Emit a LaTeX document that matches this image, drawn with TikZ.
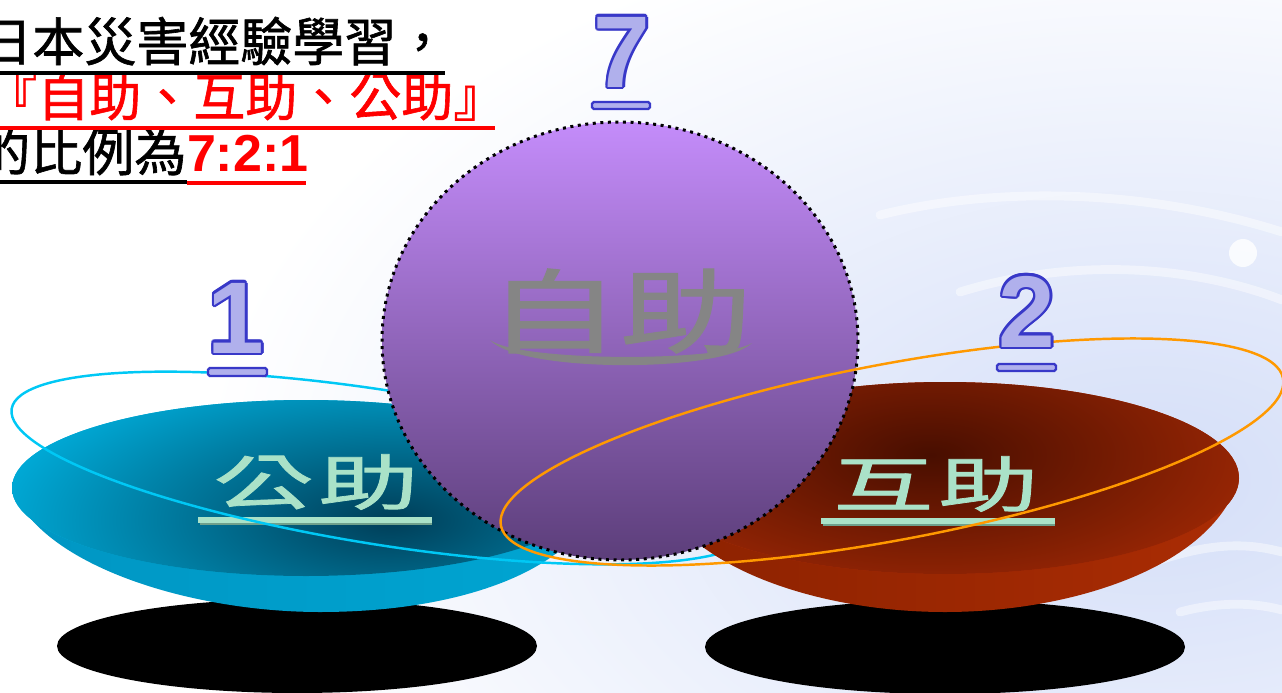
\documentclass[tikz,border=0pt]{standalone}
\usepackage{fontspec}
\usepackage{graphicx}
\newfontfamily\cjk{Noto Sans CJK TC}
\newfontfamily\cjkmid{Noto Sans CJK TC}[FakeBold=1.2]
\newfontfamily\latinb{Liberation Sans}
\usetikzlibrary{positioning}

\definecolor{bgblue}{RGB}{212,222,248}
\definecolor{bluerim}{RGB}{0,176,222}
\definecolor{bluedark}{RGB}{0,62,88}
\definecolor{bowlbl}{RGB}{0,150,195}
\definecolor{bowlbm}{RGB}{0,118,158}
\definecolor{bowlbr}{RGB}{0,165,210}
\definecolor{redrim}{RGB}{180,46,6}
\definecolor{reddark}{RGB}{72,14,0}
\definecolor{bowlrl}{RGB}{140,34,0}
\definecolor{bowlrm}{RGB}{125,30,0}
\definecolor{bowlrr}{RGB}{170,44,4}
\definecolor{ctop}{RGB}{196,140,250}
\definecolor{cmid}{RGB}{160,112,210}
\definecolor{cbot}{RGB}{92,62,122}
\definecolor{graytext}{RGB}{133,133,133}
\definecolor{numfill}{RGB}{176,176,236}
\definecolor{numedge}{RGB}{56,56,200}
\definecolor{mint}{RGB}{170,226,200}
\definecolor{mintshade}{RGB}{110,160,140}
\definecolor{ringblue}{RGB}{0,200,245}
\definecolor{ringorange}{RGB}{255,153,0}

\tikzset{
	titletext/.style={
		anchor=base west,
		inner sep=0pt,
		font=\cjkmid\fontsize{29.6}{32}\selectfont},
	titleuline/.style={
		line width=2pt},
	dishword/.style={
		inner sep=0pt,
		text=mint,
		font=\cjkmid\fontsize{57}{60}\selectfont},
	dishuline/.style={
		line width=3.2pt,
		draw=mint},
	ratioring/.style={
		line width=1.4pt},
	dotborder/.style={
		draw=black,
		line width=1.7pt,
		dash pattern=on 1.7pt off 2.6pt},
	bignum/.style={
		anchor=base,
		inner sep=0pt,
		font=\latinb\bfseries\fontsize{58}{60}\selectfont},
	numbar/.style={
		draw=numedge,
		fill=numfill,
		line width=1.3pt,
		rounded corners=1pt},
	ripple/.style={
		white,
		line width=5pt,
		opacity=0.45,
		line cap=round}
}

% digit with a blue rim: copies round it, then the light fill
\newcommand{\outlinenum}[3]{%
	\foreach \ang in {0,30,...,330}
		\node[bignum, text=numedge, shift={(\ang:2.6)}] (#1-\ang) at (#2) {#3};
	\node[bignum, text=numfill] (#1) at (#2) {#3};
}

\begin{document}
\begin{tikzpicture}[x=0.02cm, y=-0.02cm]
	\useasboundingbox (0,0) rectangle (1282,693);
	\clip (0,0) rectangle (1282,693);

	% water background
	\shade[inner color=bgblue, outer color=white] (1150,480) ellipse [x radius=950, y radius=580];
	\draw[ripple] (880,215) .. controls (1000,185) and (1150,190) .. (1282,232);
	\draw[ripple] (960,292) .. controls (1080,255) and (1200,268) .. (1282,300);
	\draw[ripple] (1160,560) .. controls (1220,540) and (1255,545) .. (1282,552);
	\draw[ripple] (1180,612) .. controls (1225,600) and (1260,604) .. (1282,610);
	\fill[white, opacity=0.8] (1243,253) circle [radius=14];

	% shadows
	\fill[black] (297,646) ellipse [x radius=240, y radius=47];
	\fill[black] (945,647) ellipse [x radius=240, y radius=47];

	% blue dish
	\shade[left color=bowlbl, middle color=bowlbm, right color=bowlbr]
		(12,488) .. controls (40,565) and (190,612) .. (320,612)
		.. controls (470,612) and (585,565) .. (600,490) -- cycle;
	\begin{scope}
		\clip (306,488) ellipse [x radius=294, y radius=88];
		\fill[bluerim] (0,380) rectangle (620,600);
		\shade[inner color=bluedark, outer color=bluerim] (390,520) ellipse [x radius=420, y radius=170];
	\end{scope}
	\node[dishword] (gongzhu) at (316,482) {\scalebox{1}[0.6]{公\hspace{0.1cm}助}};
	\draw[line width=1.4pt, mintshade] (200,524) -- (432,524);
	\draw[dishuline] (198,520) -- (432,520);

	% blue ring
	\draw[ratioring, ringblue, rotate around={-9:(385,468)}] (385,468) ellipse [x radius=378, y radius=77];

	% red dish
	\shade[left color=bowlrl, middle color=bowlrm, right color=bowlrr]
		(651,478) .. controls (675,565) and (815,612) .. (945,612)
		.. controls (1075,612) and (1215,565) .. (1239,478) -- cycle;
	\begin{scope}
		\clip (945,478) ellipse [x radius=294, y radius=96];
		\fill[redrim] (640,370) rectangle (1250,590);
		\shade[inner color=reddark, outer color=redrim] (930,455) ellipse [x radius=440, y radius=190];
	\end{scope}
	\node[dishword] (huzhu) at (936,484) {\scalebox{1}[0.6]{互\hspace{0.1cm}助}};
	\draw[line width=1.4pt, mintshade] (823,525) -- (1055,525);
	\draw[dishuline] (821,521) -- (1055,521);

	% purple ball
	\shade[top color=ctop, middle color=cmid, bottom color=cbot] (620,341) ellipse [x radius=238, y radius=219];
	\draw[dotborder] (620,341) ellipse [x radius=238, y radius=219];
	\node[inner sep=0pt, text=graytext, font=\cjkmid\fontsize{52}{56}\selectfont] (zizhu) at (620,311) {\scalebox{1.45}[1]{自助}};
	\fill[graytext] (490,340) .. controls (520,373) and (722,373) .. (752,343)
		.. controls (722,362) and (520,362) .. (490,340) -- cycle;

	% orange ring
	\draw[ratioring, ringorange, rotate around={10.65:(892,452)}] (892,452) ellipse [x radius=398, y radius=88];

	% heading
	\node[titletext] (hd1) at (-20,61) {日本災害經驗學習，};
	\node[titletext, text=red] (hd2) at (-15,116) {『自助、互助、公助』};
	\node[titletext] (hd3) at (-22,171) {的比例為};
	\node[anchor=base west, inner sep=0pt, text=red,
		font=\latinb\bfseries\fontsize{29.6}{32}\selectfont] (ratio) at (hd3.base east) {7:2:1};
	\draw[titleuline] (0,73) -- (445,73);
	\draw[titleuline, red] (0,128) -- (495,128);
	\draw[titleuline] (0,182) -- (187,182);
	\draw[titleuline, red] (187,183) -- (306,183);

	% ratio numbers
	\outlinenum{n7}{622,87}{7}
	\outlinenum{n1}{236,353}{1}
	\outlinenum{n2}{1027,347}{2}
	\draw[numbar] (592,102) rectangle (650,109);
	\draw[numbar] (208,368) rectangle (267,376);
	\draw[numbar] (997,364) rectangle (1056,371);
\end{tikzpicture}
\end{document}
